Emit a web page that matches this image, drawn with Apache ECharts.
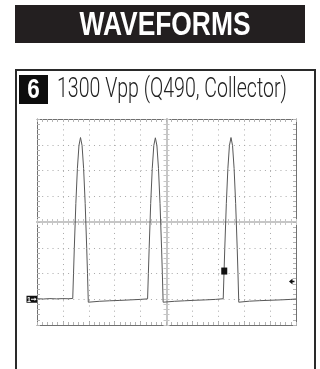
<!DOCTYPE html>
<html>
<head>
<meta charset="utf-8">
<script src="https://cdn.jsdelivr.net/npm/echarts@6/dist/echarts.min.js"></script>
<style>
  html, body { margin: 0; padding: 0; background: #fff; }
  #chart { width: 320px; height: 369px; }
</style>
</head>
<body>
<div id="chart"></div>
<script>
// Header and panel texts
const headerText = 'WAVEFORMS';
const panelNumber = '6';
const panelTitle = '1300 Vpp (Q490, Collector)';

// Channel 1 trace: time in screen divisions, amplitude in volts (200 V/div, ground 3 div below centre)
const traceTime = [
  0, 0.25, 0.5, 0.75, 1.0, 1.2, 1.38,
  1.41, 1.44, 1.50, 1.56, 1.62, 1.68, 1.74, 1.80, 1.86, 1.92, 1.95, 1.98,
  2.05, 2.4, 2.8, 3.2, 3.6, 4.0, 4.27,
  4.30, 4.33, 4.39, 4.45, 4.51, 4.57, 4.63, 4.69, 4.75, 4.81, 4.84, 4.87,
  4.94, 5.3, 5.7, 6.1, 6.5, 6.9, 7.19,
  7.22, 7.25, 7.31, 7.37, 7.43, 7.49, 7.55, 7.61, 7.67, 7.73, 7.76, 7.79,
  7.86, 8.2, 8.6, 9.0, 9.4, 9.8, 10
];
const traceVolts = [
  4, 2, 5, 3, 5, 4, 6,
  200, 394, 744, 1016, 1194, 1256, 1194, 1016, 744, 394, 200, -23,
  -19, -16, -12, -9, -5, -1, 3,
  200, 394, 744, 1016, 1194, 1254, 1194, 1016, 744, 394, 200, -23,
  -20, -16, -12, -8, -5, -1, 4,
  200, 394, 744, 1016, 1194, 1256, 1194, 1016, 744, 394, 200, -23,
  -19, -15, -11, -8, -5, -1, 2
];

// Screen scale
const timeDivs = [0, 10];
const voltRange = [-200, 1400];
const voltsPerDiv = 200;

// Scope markers: ground reference, trigger point, trigger level
const groundVolts = 0;
const triggerPoint = [7.23, 219];
const triggerLevel = 138;

const chart = echarts.init(document.getElementById('chart'), null, { renderer: 'canvas' });

const GRID = { left: 37, top: 119, width: 259, height: 206 };
const FRAME = '#707070';
const TICK = '#b4b4b4';
const DOTS = '#a8a8a8';
const CENTRE = '#c6c6c6';

function frameAxis(extra) {
  return Object.assign({
    type: 'value',
    axisLine: { show: true, onZero: false, lineStyle: { color: FRAME, width: 1 } },
    axisTick: { show: true, inside: true, length: 3, lineStyle: { color: TICK } },
    minorTick: { show: true, splitNumber: 5, length: 3, lineStyle: { color: TICK } },
    axisLabel: { show: false },
    splitLine: { show: false },
    minorSplitLine: { show: false }
  }, extra);
}
function centreAxis(extra) {
  return Object.assign({
    type: 'value',
    axisLine: { show: true, onZero: true, lineStyle: { color: CENTRE, width: 2 } },
    axisTick: { show: true, length: 3, lineStyle: { color: CENTRE } },
    minorTick: { show: true, splitNumber: 5, length: 3, lineStyle: { color: CENTRE } },
    axisLabel: { show: false },
    splitLine: { show: false }
  }, extra);
}
const dotted = { show: true, lineStyle: { color: DOTS, width: 1, type: [1, 4.18] } };
const tickOut = { show: true, inside: false, length: 3, lineStyle: { color: CENTRE } };
const tickIn = { show: true, inside: true, length: 3, lineStyle: { color: CENTRE } };

const option = {
  animation: false,
  backgroundColor: '#ffffff',
  grid: [Object.assign({}, GRID), Object.assign({}, GRID), Object.assign({}, GRID)],
  xAxis: [
    frameAxis({ gridIndex: 0, position: 'bottom', min: timeDivs[0], max: timeDivs[1], interval: 1, splitLine: dotted }),
    frameAxis({ gridIndex: 0, position: 'top', min: timeDivs[0], max: timeDivs[1], interval: 1 }),
    centreAxis({ gridIndex: 1, min: -5, max: 5, interval: 1, axisTick: tickOut }),
    centreAxis({ gridIndex: 2, min: -5, max: 5, interval: 1, axisTick: tickIn })
  ],
  yAxis: [
    frameAxis({ gridIndex: 0, position: 'left', min: voltRange[0], max: voltRange[1], interval: voltsPerDiv, splitLine: dotted }),
    frameAxis({ gridIndex: 0, position: 'right', min: voltRange[0], max: voltRange[1], interval: voltsPerDiv }),
    centreAxis({ gridIndex: 1, min: -4, max: 4, interval: 1, axisTick: tickOut }),
    centreAxis({ gridIndex: 2, min: -4, max: 4, interval: 1, axisTick: tickIn })
  ],
  series: [{
    type: 'line',
    xAxisIndex: 0,
    yAxisIndex: 0,
    data: traceTime.map((t, i) => [t, traceVolts[i]]),
    showSymbol: false,
    symbol: 'none',
    smooth: false,
    lineStyle: { color: '#585858', width: 1 },
    z: 5
  }]
};
chart.setOption(option);

// Condensed lettering: squeeze text horizontally to its set width
const measureCtx = document.createElement('canvas').getContext('2d');
function textWidth(text, font) {
  measureCtx.font = font;
  return measureCtx.measureText(text).width;
}

const headerFont = 'bold 34px "Liberation Sans", Arial, sans-serif';
const numberFont = 'bold 28px "Liberation Sans", Arial, sans-serif';
const titleFont = '300 28px Roboto, "Liberation Sans", sans-serif';

const headerScale = 171 / textWidth(headerText, headerFont);
const numberScale = 12.5 / textWidth(panelNumber, numberFont);
const titleScale = 230 / textWidth(panelTitle, titleFont);

const ground = chart.convertToPixel({ gridIndex: 0 }, [timeDivs[0], groundVolts]);
const trig = chart.convertToPixel({ gridIndex: 0 }, triggerPoint);
const level = chart.convertToPixel({ gridIndex: 0 }, [timeDivs[1], triggerLevel]);

chart.setOption({
  graphic: [
    // header bar
    { type: 'rect', shape: { x: 15, y: 5, width: 290, height: 38 }, style: { fill: '#231f20' }, z: 10 },
    { type: 'text', x: 165, y: 25.5, scaleX: headerScale,
      style: { text: headerText, font: headerFont, fill: '#ffffff', align: 'center', verticalAlign: 'middle' }, z: 11 },
    // panel frame
    { type: 'rect', shape: { x: 16, y: 70, width: 299, height: 330 }, style: { fill: 'none', stroke: '#2a2a2a', lineWidth: 2 }, z: 10 },
    { type: 'rect', shape: { x: 19, y: 75, width: 29, height: 29 }, style: { fill: '#0d0d0d' }, z: 10 },
    { type: 'text', x: 33.5, y: 90.5, scaleX: numberScale,
      style: { text: panelNumber, font: numberFont, fill: '#ffffff', align: 'center', verticalAlign: 'middle' }, z: 11 },
    { type: 'text', x: 57, y: 90, scaleX: titleScale,
      style: { text: panelTitle, font: titleFont, fill: '#222222', align: 'left', verticalAlign: 'middle' }, z: 11 },
    // channel 1 ground marker
    { type: 'rect', shape: { x: ground[0] - 10.5, y: ground[1] - 3.5, width: 10.5, height: 7 }, style: { fill: '#111111' }, z: 12 },
    { type: 'text', x: ground[0] - 8, y: ground[1] + 0.5,
      style: { text: '1', font: 'bold 7px "Liberation Sans", sans-serif', fill: '#ffffff', align: 'center', verticalAlign: 'middle' }, z: 13 },
    { type: 'line', shape: { x1: ground[0] - 6, y1: ground[1], x2: ground[0] - 1.5, y2: ground[1] }, style: { stroke: '#ffffff', lineWidth: 1 }, z: 13 },
    { type: 'polygon', shape: { points: [[ground[0] - 0.5, ground[1]], [ground[0] - 2.5, ground[1] - 1.8], [ground[0] - 2.5, ground[1] + 1.8]] }, style: { fill: '#ffffff' }, z: 13 },
    // trigger point marker
    { type: 'rect', shape: { x: trig[0] - 3, y: trig[1] - 3.5, width: 6, height: 7 }, style: { fill: '#111111' }, z: 12 },
    // trigger level marker
    { type: 'polygon', shape: { points: [[level[0] - 7, level[1]], [level[0] - 3.5, level[1] - 3], [level[0] - 3.5, level[1] + 3]] }, style: { fill: '#111111' }, z: 12 },
    { type: 'line', shape: { x1: level[0] - 4, y1: level[1], x2: level[0] - 1.5, y2: level[1] }, style: { stroke: '#111111', lineWidth: 1.5 }, z: 12 }
  ]
});
</script>
</body>
</html>
